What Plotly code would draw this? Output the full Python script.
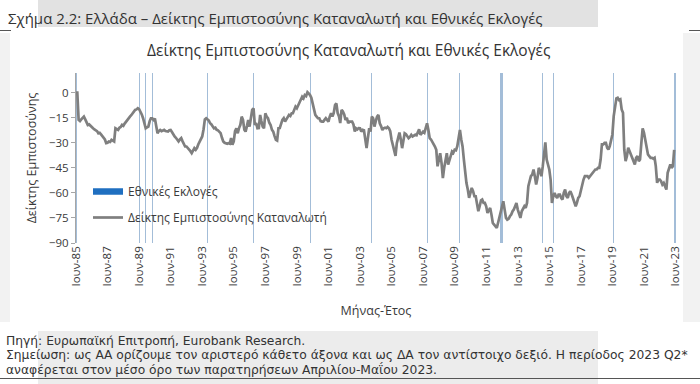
import plotly.graph_objects as go
import pandas as pd

W, H = 700, 384
PL, PR, PT, PB = 76, 676, 73, 243


def px(x):
    return (x - PL) / (PR - PL)


def py(y):
    return (PB - y) / (PB - PT)


start_month = "1985-06-01"

confidence = [
    0, 0, -16.3, -17, -16, -15, -14.3, -16, -17.5, -19.3, -19, -20,
    -20.5, -21.3, -22, -22.5, -23, -24.3, -24, -25, -26, -27.2, -28, -30.2,
    -30, -29.2, -29.5, -28.2, -29, -29.2, -21.3, -22, -22.3, -21, -20.5, -19.3,
    -19.8, -18.5, -17.3, -16.5, -15.3, -14.3, -13.5, -12.3, -11.3, -10.3, -10, -9.3,
    -9.9, -11.3, -13, -15.3, -18, -21.3, -20.8, -20.3, -17, -15.3, -15.3, -16.3,
    -15.5, -19, -24.3, -23, -22.3, -23, -22.5, -22.3, -23, -23.3, -23.3, -22.5,
    -22.3, -23.5, -25.2, -26.2, -27, -28.2, -29.2, -28, -27.2, -29, -31.2, -32.2,
    -32.2, -33, -34.1, -35, -36.2, -35, -33.2, -34.2, -33, -31, -29.2, -28,
    -26.2, -22, -16, -15.3, -16, -16.7, -18.3, -19, -20.3, -21.3, -21, -22.2,
    -22.5, -23.3, -24.2, -27, -29.2, -30, -30.2, -30.6, -30.2, -30.5, -27.2, -31.2,
    -29.2, -23, -21.3, -24.3, -21.2, -19.2, -14.3, -16.3, -22.2, -23.3, -20, -16.3,
    -20.3, -14, -10.3, -9.3, -19.3, -18.2, -21.3, -21.2, -13.3, -17, -20.3, -21.3,
    -12.3, -14.3, -15.3, -18, -19.3, -22.2, -23.3, -26, -28.2, -28.6, -21.3, -21.2,
    -18, -16.3, -15.3, -17.3, -16, -14.5, -13.3, -13.9, -12.3, -12.3, -10, -8.3,
    -9.3, -7.5, -5.4, -4.4, -2.4, -3.4, -1.4, -2, 0.3, -0.5, -1.4, -3,
    -6.4, -9.3, -13.3, -14.3, -15.3, -15.3, -17, -17.3, -17.3, -16.3, -15.3, -16.3,
    -17.3, -14.3, -12.3, -14.3, -12.3, -7.4, -6.4, -12.3, -14.3, -18.2, -10.3, -11.3,
    -13, -16.3, -15, -18.3, -17.3, -17.3, -17.3, -19, -23.3, -21.3, -22, -21.2,
    -21.3, -23.3, -22.2, -22.5, -27, -33.2, -27.2, -21.3, -23.3, -14.3, -15.3, -20.3,
    -17, -14.3, -13.3, -18.3, -20, -22.3, -21.3, -21, -21.3, -20.5, -21.3, -23,
    -28.2, -32, -35, -37.8, -30.2, -26, -23.9, -28, -33.2, -29, -24.3, -24.8,
    -26, -27.2, -26.5, -25.2, -26.2, -25.8, -25.2, -25.5, -24, -21.9, -25.2, -24,
    -23.3, -24, -21, -18.3, -22.2, -27.2, -28, -29.2, -30.5, -32.2, -34.2, -44.1,
    -40, -36.2, -42, -51.1, -45, -40, -36.2, -43.1, -41, -38, -35.2, -36,
    -34.2, -34.5, -32, -28, -22.3, -28, -32.2, -40.2, -50, -54.1, -58, -63,
    -60, -57, -59, -62, -62, -66, -71, -68, -64.5, -64, -66, -66,
    -68, -72, -70, -69, -73, -78, -79, -80, -81, -78, -75, -72,
    -68, -65, -70, -75, -76, -75.5, -74, -73, -71, -70, -68, -66,
    -70, -72, -75, -71, -69, -68, -69, -66, -56, -53, -50, -49,
    -46, -50, -55, -51, -45, -47, -50, -44, -37, -29.8, -40, -43,
    -46, -52, -66, -62, -60, -62, -63, -61, -61, -63, -64, -60,
    -58, -62, -63, -60, -59, -61, -63, -65, -68, -66, -63, -62,
    -58, -54, -52, -50, -50, -50, -51, -50, -49, -48, -47, -46,
    -46, -45, -45, -40, -31, -31, -30, -30, -33, -34, -32, -29,
    -25, -14, -8, -3.4, -3, -4.4, -4, -10, -12, -34, -41, -38,
    -33, -35, -36, -38, -40, -43, -39, -38, -41, -40, -30, -21.3,
    -24, -28.2, -33, -37, -38, -39, -39, -39.5, -39, -44, -54, -52,
    -52, -53, -55, -54, -56, -58, -48, -46, -43, -45, -44, -34.2,
]

election_months = [
    "1985-06-01", "1989-06-01", "1989-11-01", "1990-04-01", "1993-10-01",
    "1996-09-01", "2000-04-01", "2004-03-01", "2007-09-01", "2009-10-01",
    "2012-05-01", "2012-06-01", "2015-01-01", "2015-09-01", "2019-07-01",
    "2023-05-01", "2023-06-01",
]
election_flag = [1] * len(election_months)

tick_dates = [
    "1985-06-01", "1987-06-01", "1989-06-01", "1991-06-01", "1993-06-01",
    "1995-06-01", "1997-06-01", "1999-06-01", "2001-06-01", "2003-06-01",
    "2005-06-01", "2007-06-01", "2009-06-01", "2011-06-01", "2013-06-01",
    "2015-06-01", "2017-06-01", "2019-06-01", "2021-06-01", "2023-06-01",
]
tick_labels = [
    "Ιουν-85", "Ιουν-87", "Ιουν-89", "Ιουν-91", "Ιουν-93",
    "Ιουν-95", "Ιουν-97", "Ιουν-99", "Ιουν-01", "Ιουν-03",
    "Ιουν-05", "Ιουν-07", "Ιουν-09", "Ιουν-11", "Ιουν-13",
    "Ιουν-15", "Ιουν-17", "Ιουν-19", "Ιουν-21", "Ιουν-23",
]
y_ticks = [0, -15, -30, -45, -60, -75, -90]

footer_lines = [
    "Πηγή: Ευρωπαϊκή Επιτροπή, Eurobank Research.",
    "Σημείωση: ως ΑΑ ορίζουμε τον αριστερό κάθετο άξονα και ως ΔΑ τον αντίστοιχο δεξιό. Η περίοδος 2023 Q2*",
    "αναφέρεται στον μέσο όρο των παρατηρήσεων Απριλίου-Μαΐου 2023.",
]

months = pd.date_range(start_month, periods=len(confidence), freq="MS")

FONT = "Open Sans"
TXT = "#3a3a3a"
BLUE = "#1f6fc0"

fig = go.Figure()

# election bars (very thin -> drawn as 1px light lines like the reference)
fig.add_trace(go.Bar(
    x=pd.to_datetime(election_months), y=election_flag,
    name="Εθνικές Εκλογές",
    marker=dict(color="#a3bdd8", line=dict(width=0)),
    width=0.04 * 30.44 * 86400000,
    yaxis="y", xaxis="x",
    showlegend=False,
    hoverinfo="skip",
))
# legend swatch for the elections (flat wide rectangle as in the reference)
fig.add_trace(go.Scatter(
    x=[None], y=[None], mode="lines",
    name="Εθνικές Εκλογές",
    line=dict(color=BLUE, width=6.5),
    yaxis="y", xaxis="x",
    legendgroup="a",
))

fig.add_trace(go.Scatter(
    x=months, y=confidence,
    name="Δείκτης Εμπιστοσύνης Καταναλωτή",
    mode="lines",
    line=dict(color="#7f7f7f", width=2.7),
    yaxis="y2", xaxis="x",
    legendgroup="b",
))

x_range = ["1985-06-01", "2023-06-12"]

fig.update_layout(
    width=W, height=H,
    margin=dict(l=PL, r=W - PR, t=PT, b=H - PB),
    paper_bgcolor="white",
    plot_bgcolor="white",
    font=dict(family=FONT, size=12, color=TXT),
    showlegend=True,
    bargap=0,
    legend=dict(
        x=px(88), y=py(177), xanchor="left", yanchor="top",
        bgcolor="rgba(0,0,0,0)", font=dict(size=12, color=TXT),
        tracegroupgap=7, itemwidth=30,
    ),
    xaxis=dict(
        type="date", range=x_range,
        tickmode="array", tickvals=tick_dates, ticktext=tick_labels,
        tickangle=-90, tickfont=dict(size=11.5, color=TXT),
        showgrid=False, zeroline=False, showline=False, ticks="",
        title=dict(text="Μήνας-Έτος", font=dict(size=12.5, color=TXT), standoff=20),
    ),
    xaxis2=dict(
        type="date", range=x_range, overlaying="x", side="top",
        tickmode="array", tickvals=tick_dates, showticklabels=False,
        showline=True, linecolor="#b0b0b0", linewidth=1,
        ticks="outside", ticklen=3, tickcolor="#b0b0b0",
        showgrid=False, zeroline=False,
    ),
    yaxis=dict(range=[0, 1], visible=False, fixedrange=True),
    yaxis2=dict(
        overlaying="y", side="left", range=[-90, 11.8],
        tickmode="array", tickvals=y_ticks,
        tickfont=dict(size=11.5, color=TXT),
        showgrid=False, zeroline=False,
        showline=True, linecolor="#a6a6a6", linewidth=1,
        ticks="outside", ticklen=4, tickcolor="#a6a6a6",
        title=dict(text="Δείκτης Εμπιστοσύνης", font=dict(size=12.5, color=TXT), standoff=9),
    ),
)

# page decorations (paper coordinates converted from pixels)
shapes = [
    dict(type="rect", x0=px(38), x1=px(598), y0=py(0), y1=py(27),
         fillcolor="#e2e2e2", line=dict(width=0), layer="below"),
    dict(type="rect", x0=px(0), x1=px(10), y0=py(33), y1=py(322),
         fillcolor="#f2f2f2", line=dict(width=0), layer="below"),
    dict(type="rect", x0=px(683), x1=px(700), y0=py(33), y1=py(322),
         fillcolor="#f2f2f2", line=dict(width=0), layer="below"),
    dict(type="rect", x0=px(38), x1=px(598), y0=py(331), y1=py(384),
         fillcolor="#ececec", line=dict(width=0), layer="below"),
    dict(type="line", x0=px(0), x1=px(11), y0=py(30.5), y1=py(30.5),
         line=dict(color="#555555", width=1)),
    dict(type="line", x0=px(689), x1=px(700), y0=py(30.5), y1=py(30.5),
         line=dict(color="#555555", width=1)),
    dict(type="line", x0=px(0), x1=px(700), y0=py(378.5), y1=py(378.5),
         line=dict(color="#555555", width=1)),
]
for s in shapes:
    s["xref"] = "paper"
    s["yref"] = "paper"
fig.update_layout(shapes=shapes)

annotations = [
    dict(text="Σχήμα 2.2: Ελλάδα – Δείκτης Εμπιστοσύνης Καταναλωτή και Εθνικές Εκλογές",
         x=px(6), y=py(18), xanchor="left", yanchor="middle",
         font=dict(size=15, color="#333333")),
    dict(text="Δείκτης Εμπιστοσύνης Καταναλωτή και Εθνικές Εκλογές",
         x=px(349), y=py(50), xanchor="center", yanchor="middle",
         font=dict(size=15.5, color="#333333")),
]
for i, line in enumerate(footer_lines):
    annotations.append(dict(
        text=line, x=px(4), y=py(340.6 + 14.4 * i), xanchor="left", yanchor="middle",
        font=dict(family="DejaVu Sans", size=12.3, color="#333333"),
    ))
for a in annotations:
    a["xref"] = "paper"
    a["yref"] = "paper"
    a["showarrow"] = False
fig.update_layout(annotations=annotations)

fig.write_html(
    "out.html",
    config={"displayModeBar": False},
    post_script="document.body.style.margin='0px';",
)
